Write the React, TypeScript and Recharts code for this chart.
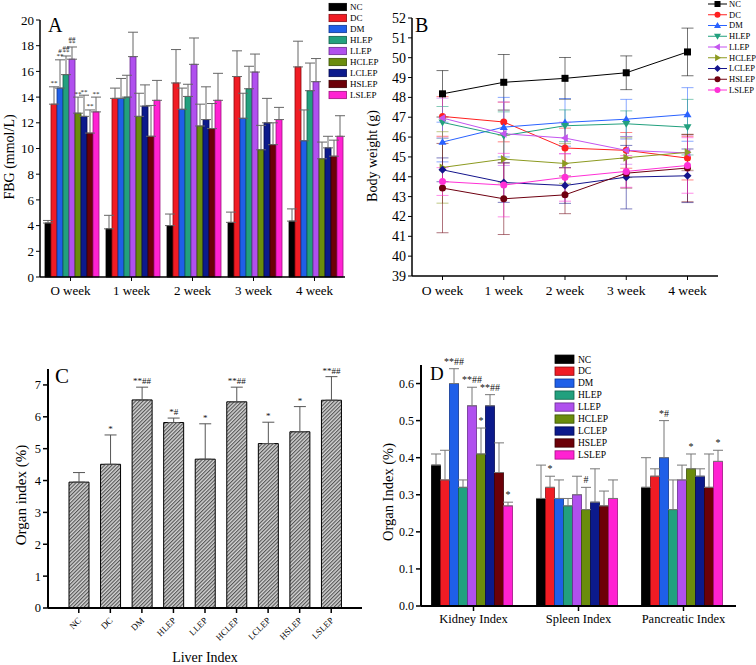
import React from "react";
import { BarChart, Bar, LineChart, Line, XAxis, YAxis, ErrorBar, LabelList } from "recharts";

const serif = "'Liberation Serif', 'Times New Roman', serif";

const groups = ["NC", "DC", "DM", "HLEP", "LLEP", "HCLEP", "LCLEP", "HSLEP", "LSLEP"];
const barColors = ["#000000", "#f01c24", "#1f5fe8", "#22a07e", "#b050ee", "#6a8c0c", "#0c1a8c", "#6c0008", "#ff22d2"];
const barEdges = ["#000000", "#8a0a10", "#0c3490", "#10604a", "#6a2a90", "#3a5004", "#050a50", "#3a0004", "#a01080"];
const lineColors = ["#000000", "#ff2020", "#2a62ff", "#22a07e", "#c455f0", "#8c9a20", "#14148c", "#6e0010", "#ff30d6"];
const markerKinds = ["square", "circle", "triUp", "triDown", "triLeft", "triRight", "diamond", "circle", "circle"];

// panel A: fasting blood glucose
const weeks = ["O week", "1 week", "2 week", "3 week", "4 week"];
const fbgMean = [
  [4.2, 3.75, 4.0, 4.25, 4.35],
  [13.45, 13.9, 15.1, 15.6, 16.35],
  [14.7, 13.9, 13.05, 12.35, 10.6],
  [15.75, 14.0, 14.05, 14.65, 14.5],
  [16.95, 17.15, 16.55, 15.95, 15.2],
  [12.75, 12.5, 11.75, 9.9, 9.2],
  [12.5, 13.3, 12.25, 12.0, 10.05],
  [11.2, 10.95, 11.55, 10.3, 9.4],
  [12.85, 13.75, 13.75, 12.25, 10.95],
];
const fbgErr = [
  [0.2, 1.05, 0.9, 0.8, 0.95],
  [1.35, 0.8, 2.6, 2.0, 2.0],
  [2.2, 1.55, 1.65, 1.95, 2.4],
  [1.45, 1.7, 0.95, 1.75, 2.15],
  [0.95, 1.9, 2.05, 1.4, 1.8],
  [1.25, 1.8, 1.7, 1.9, 1.3],
  [1.65, 1.65, 2.55, 1.9, 0.9],
  [1.8, 2.4, 1.95, 1.7, 1.25],
  [1.15, 1.55, 2.1, 0.95, 1.6],
];
const fbgMarks = [
  ["", "", "", "", ""],
  ["**", "", "", "", ""],
  ["#|**", "", "", "", ""],
  ["##|**", "", "", "", ""],
  ["##|**", "", "", "", ""],
  ["**", "", "", "", ""],
  ["**", "", "", "", ""],
  ["**", "", "", "", ""],
  ["**", "", "", "", ""],
];

// panel B: body weight
const weightMean = [
  [48.18, 48.76, 48.96, 49.24, 50.29],
  [47.04, 46.76, 45.45, 45.33, 44.94],
  [45.75, 46.5, 46.74, 46.9, 47.14],
  [46.74, 46.07, 46.57, 46.67, 46.5],
  [46.96, 46.17, 45.95, 45.33, 45.2],
  [44.47, 44.89, 44.67, 44.96, 45.23],
  [44.35, 43.71, 43.56, 43.98, 44.05],
  [43.43, 42.89, 43.09, 44.18, 44.44],
  [43.76, 43.58, 43.97, 44.27, 44.57],
];
const weightErr = [
  [1.17, 1.4, 1.05, 0.85, 1.2],
  [1.0, 1.0, 1.0, 0.9, 1.1],
  [1.0, 1.5, 1.2, 1.0, 1.35],
  [0.8, 1.2, 0.8, 0.65, 1.4],
  [1.0, 1.6, 0.8, 0.7, 0.9],
  [1.8, 1.2, 1.0, 1.0, 0.9],
  [0.6, 1.0, 0.9, 1.6, 1.35],
  [2.25, 1.8, 0.95, 0.75, 1.7],
  [0.7, 1.6, 1.2, 0.8, 1.4],
];

// panel C: liver index
const liverMean = [3.95, 4.51, 6.53, 5.82, 4.67, 6.47, 5.16, 5.53, 6.52];
const liverErr = [0.3, 0.92, 0.4, 0.14, 1.11, 0.46, 0.67, 0.79, 0.74];
const liverMarks = ["", "*", "**##", "*#", "*", "**##", "*", "*", "**##"];

// panel D: kidney / spleen / pancreas
const organs = ["Kidney Index", "Spleen Index", "Pancreatic Index"];
const organMean = [
  [0.38, 0.29, 0.32],
  [0.34, 0.32, 0.35],
  [0.6, 0.29, 0.4],
  [0.32, 0.27, 0.26],
  [0.54, 0.3, 0.34],
  [0.41, 0.26, 0.37],
  [0.54, 0.28, 0.35],
  [0.36, 0.27, 0.32],
  [0.27, 0.29, 0.39],
];
const organErr = [
  [0.03, 0.09, 0.08],
  [0.08, 0.03, 0.02],
  [0.04, 0.05, 0.1],
  [0.02, 0.02, 0.08],
  [0.05, 0.05, 0.04],
  [0.07, 0.06, 0.04],
  [0.03, 0.09, 0.02],
  [0.08, 0.04, 0.09],
  [0.01, 0.05, 0.03],
];
const organMarks = [
  ["", "", ""],
  ["", "*", ""],
  ["**##", "", "*#"],
  ["", "", ""],
  ["**##", "", ""],
  ["*", "#", "*"],
  ["**##", "", ""],
  ["", "", ""],
  ["*", "", "*"],
];

const fbgData = weeks.map((w, i) => {
  const row: any = { week: w };
  groups.forEach((g, j) => {
    row[g] = fbgMean[j][i];
    row[g + "_e"] = [0, fbgErr[j][i]];
    row[g + "_m"] = fbgMarks[j][i];
  });
  return row;
});

const weightData = weeks.map((w, i) => {
  const row: any = { week: w };
  groups.forEach((g, j) => {
    row[g] = weightMean[j][i];
    row[g + "_e"] = weightErr[j][i];
  });
  return row;
});

const liverData = groups.map((g, i) => ({
  group: g,
  value: liverMean[i],
  err: [0, liverErr[i]],
  mark: liverMarks[i],
}));

const organData = organs.map((o, i) => {
  const row: any = { organ: o };
  groups.forEach((g, j) => {
    row[g] = organMean[j][i];
    row[g + "_e"] = [0, organErr[j][i]];
    row[g + "_m"] = organMarks[j][i];
  });
  return row;
});

// significance marks sit just above the top of each error bar
const markLabel = (means: number[], errs: number[], fs: number, gap: number) => (p: any) => {
  const vb = p.viewBox || {};
  const x = Number(p.x ?? vb.x);
  const y = Number(p.y ?? vb.y);
  const w = Number(p.width ?? vb.width);
  const h = Number(p.height ?? vb.height);
  const i = p.index;
  if (!p.value || i == null) return null;
  const top = y - errs[i] * (h / means[i]);
  const lines = String(p.value).split("|");
  const cx = x + w / 2;
  return (
    <text x={cx} y={top - gap} textAnchor="middle" fontSize={fs} fontFamily={serif} fill="#111">
      {lines.map((l, k) => (
        <tspan key={k} x={cx} dy={k === 0 ? -(lines.length - 1) * fs * 0.7 : fs * 0.7}>
          {l}
        </tspan>
      ))}
    </text>
  );
};

function Marker({ kind, cx, cy, color, r = 3.5 }: any) {
  switch (kind) {
    case "square":
      return <rect x={cx - r} y={cy - r} width={2 * r} height={2 * r} fill={color} />;
    case "triUp":
      return <polygon points={`${cx},${cy - r - 0.5} ${cx + r + 0.5},${cy + r * 0.8} ${cx - r - 0.5},${cy + r * 0.8}`} fill={color} />;
    case "triDown":
      return <polygon points={`${cx},${cy + r + 0.5} ${cx + r + 0.5},${cy - r * 0.8} ${cx - r - 0.5},${cy - r * 0.8}`} fill={color} />;
    case "triLeft":
      return <polygon points={`${cx - r - 0.5},${cy} ${cx + r * 0.8},${cy - r - 0.5} ${cx + r * 0.8},${cy + r + 0.5}`} fill={color} />;
    case "triRight":
      return <polygon points={`${cx + r + 0.5},${cy} ${cx - r * 0.8},${cy - r - 0.5} ${cx - r * 0.8},${cy + r + 0.5}`} fill={color} />;
    case "diamond":
      return <polygon points={`${cx},${cy - r - 0.5} ${cx + r + 0.5},${cy} ${cx},${cy + r + 0.5} ${cx - r - 0.5},${cy}`} fill={color} />;
    default:
      return <circle cx={cx} cy={cy} r={r} fill={color} />;
  }
}

const tickStyle = (fs: number) => ({ fontSize: fs, fill: "#000", fontFamily: serif });
const axisLine = (w: number) => ({ stroke: "#000", strokeWidth: w });

function PanelA() {
  return (
    <BarChart width={360} height={310} data={fbgData} margin={{ top: 20, right: 15, left: 0, bottom: 0 }} barCategoryGap={5} barGap={0}>
      <XAxis dataKey="week" height={33} interval={0} tick={tickStyle(13)} tickSize={4} tickMargin={5} axisLine={axisLine(1.5)} tickLine={{ stroke: "#000" }} />
      <YAxis width={40} interval={0} domain={[0, 20]} ticks={[0, 2, 4, 6, 8, 10, 12, 14, 16, 18, 20]} tick={tickStyle(13)} tickSize={4} tickMargin={2} axisLine={axisLine(1.5)} tickLine={{ stroke: "#000" }} />
      {groups.map((g, j) => (
        <Bar key={g} dataKey={g} fill={barColors[j]} stroke={barEdges[j]} strokeWidth={0.8} isAnimationActive={false}>
          <ErrorBar dataKey={g + "_e"} width={5} stroke="#666" strokeWidth={1} isAnimationActive={false} />
          <LabelList dataKey={g + "_m"} content={markLabel(fbgMean[j], fbgErr[j], 7, 1.5)} />
        </Bar>
      ))}
    </BarChart>
  );
}

function PanelB() {
  return (
    <LineChart width={386} height={310} data={weightData} margin={{ top: 18, right: 38, left: 0, bottom: 0 }}>
      <XAxis dataKey="week" height={34} interval={0} padding={{ left: 30.5, right: 30.5 }} tick={tickStyle(13.5)} tickSize={4} tickMargin={5} axisLine={axisLine(1.5)} tickLine={{ stroke: "#000" }} />
      <YAxis width={42} interval={0} domain={[39, 52]} ticks={[39, 40, 41, 42, 43, 44, 45, 46, 47, 48, 49, 50, 51, 52]} tick={tickStyle(14)} tickSize={4} tickMargin={2} axisLine={axisLine(1.5)} tickLine={{ stroke: "#000" }} />
      {groups.map((g, j) => (
        <Line
          key={g}
          dataKey={g}
          stroke={lineColors[j]}
          strokeWidth={1}
          isAnimationActive={false}
          activeDot={false}
          dot={(p: any) => <Marker key={g + p.index} kind={markerKinds[j]} cx={p.cx} cy={p.cy} color={lineColors[j]} />}
        >
          <ErrorBar dataKey={g + "_e"} width={6} stroke={lineColors[j]} strokeOpacity={0.55} strokeWidth={1} direction="y" isAnimationActive={false} />
        </Line>
      ))}
    </LineChart>
  );
}

function PanelC() {
  return (
    <BarChart width={380} height={335} data={liverData} margin={{ top: 39, right: 18, left: 0, bottom: 0 }} barSize={20}>
      <XAxis
        dataKey="group"
        height={57}
        interval={0}
        padding={{ left: 15, right: 15 }}
        tickSize={5}
        axisLine={axisLine(2)}
        tickLine={{ stroke: "#000", strokeWidth: 1.5 }}
        tick={(p: any) => (
          <text x={p.x + 3} y={p.y + 6} transform={`rotate(-45 ${p.x + 3} ${p.y + 6})`} textAnchor="end" fontSize={9} fontFamily={serif} fill="#000">
            {p.payload.value}
          </text>
        )}
      />
      <YAxis width={48} interval={0} domain={[0, 7.5]} ticks={[0, 1, 2, 3, 4, 5, 6, 7]} tick={tickStyle(12.5)} tickSize={5} tickMargin={2} axisLine={axisLine(2)} tickLine={{ stroke: "#000", strokeWidth: 1.5 }} />
      <Bar dataKey="value" fill="url(#hatch)" stroke="#000" strokeWidth={1} isAnimationActive={false}>
        <ErrorBar dataKey="err" width={6} stroke="#555" strokeWidth={1} isAnimationActive={false} />
        <LabelList dataKey="mark" content={markLabel(liverMean, liverErr, 9, 3)} />
      </Bar>
    </BarChart>
  );
}

function PanelD() {
  return (
    <BarChart width={386} height={335} data={organData} margin={{ top: 35, right: 20, left: 0, bottom: 0 }} barCategoryGap={10.5} barGap={0}>
      <XAxis dataKey="organ" height={59} interval={0} tick={tickStyle(12.5)} tickSize={5} tickMargin={3} axisLine={axisLine(2)} tickLine={{ stroke: "#000", strokeWidth: 1.5 }} />
      <YAxis width={51} interval={0} domain={[0, 0.65]} ticks={[0, 0.1, 0.2, 0.3, 0.4, 0.5, 0.6]} tickFormatter={(v: number) => v.toFixed(1)} tick={tickStyle(12)} tickSize={5} tickMargin={2} axisLine={axisLine(2)} tickLine={{ stroke: "#000", strokeWidth: 1.5 }} />
      {groups.map((g, j) => (
        <Bar key={g} dataKey={g} fill={barColors[j]} stroke={barEdges[j]} strokeWidth={0.8} isAnimationActive={false}>
          <ErrorBar dataKey={g + "_e"} width={5} stroke="#777" strokeWidth={1} isAnimationActive={false} />
          <LabelList dataKey={g + "_m"} content={markLabel(organMean[j], organErr[j], 10, 4)} />
        </Bar>
      ))}
    </BarChart>
  );
}

function BoxLegend({ left, top, step, boxW, boxH, textLeft, fs }: any) {
  return (
    <g>
      {groups.map((g, i) => {
        const cy = top + i * step;
        return (
          <g key={g}>
            <rect x={left} y={cy - boxH / 2} width={boxW} height={boxH} fill={barColors[i]} stroke={barEdges[i]} strokeWidth={0.8} />
            <text x={textLeft} y={cy + fs * 0.35} fontSize={fs} fontFamily={serif} fill="#000">
              {g}
            </text>
          </g>
        );
      })}
    </g>
  );
}

function LineLegend({ left, right, top, step, textLeft, fs }: any) {
  return (
    <g>
      {groups.map((g, i) => {
        const cy = top + i * step;
        return (
          <g key={g}>
            <line x1={left} x2={right} y1={cy} y2={cy} stroke={lineColors[i]} strokeWidth={1} />
            <Marker kind={markerKinds[i]} cx={(left + right) / 2} cy={cy} color={lineColors[i]} r={3} />
            <text x={textLeft} y={cy + fs * 0.35} fontSize={fs} fontFamily={serif} fill="#000">
              {g}
            </text>
          </g>
        );
      })}
    </g>
  );
}

export default function App() {
  return (
    <div style={{ position: "absolute", left: 0, top: 0, width: 756, height: 665, background: "#fff", overflow: "hidden" }}>
      <svg width={0} height={0} style={{ position: "absolute" }}>
        <defs>
          <pattern id="hatch" width="2.6" height="2.6" patternUnits="userSpaceOnUse" patternTransform="rotate(45)">
            <rect width="2.6" height="2.6" fill="#d4d4d4" />
            <line x1="0.6" y1="0" x2="0.6" y2="2.6" stroke="#444" strokeWidth="1" />
          </pattern>
        </defs>
      </svg>
      <div style={{ position: "absolute", left: 0, top: 0 }}>
        <PanelA />
      </div>
      <div style={{ position: "absolute", left: 370, top: 0 }}>
        <PanelB />
      </div>
      <div style={{ position: "absolute", left: 0, top: 330 }}>
        <PanelC />
      </div>
      <div style={{ position: "absolute", left: 370, top: 330 }}>
        <PanelD />
      </div>
      <svg width={756} height={665} style={{ position: "absolute", left: 0, top: 0, pointerEvents: "none" }}>
        <text x={48} y={32} fontSize={20} fontFamily={serif}>A</text>
        <text x={415} y={32} fontSize={20} fontFamily={serif}>B</text>
        <text x={55} y={383} fontSize={21} fontFamily={serif}>C</text>
        <text x={430} y={380} fontSize={19} fontFamily={serif}>D</text>
        <text transform="translate(14 157) rotate(-90)" textAnchor="middle" fontSize={14} fontFamily={serif}>FBG (mmol/L)</text>
        <text transform="translate(377 156) rotate(-90)" textAnchor="middle" fontSize={14} fontFamily={serif}>Body weight (g)</text>
        <text transform="translate(26 495) rotate(-90)" textAnchor="middle" fontSize={15} fontFamily={serif}>Organ index (%)</text>
        <text transform="translate(393 492) rotate(-90)" textAnchor="middle" fontSize={14.5} fontFamily={serif}>Organ Index (%)</text>
        <text x={205} y={662} textAnchor="middle" fontSize={14} fontFamily={serif}>Liver Index</text>
        <BoxLegend left={329} top={7} step={11} boxW={17.5} boxH={7.3} textLeft={350} fs={9} />
        <LineLegend left={708} right={727} top={4} step={10.75} textLeft={729} fs={8.5} />
        <BoxLegend left={555} top={359.2} step={11.97} boxW={19} boxH={8.3} textLeft={578} fs={9.5} />
      </svg>
    </div>
  );
}
